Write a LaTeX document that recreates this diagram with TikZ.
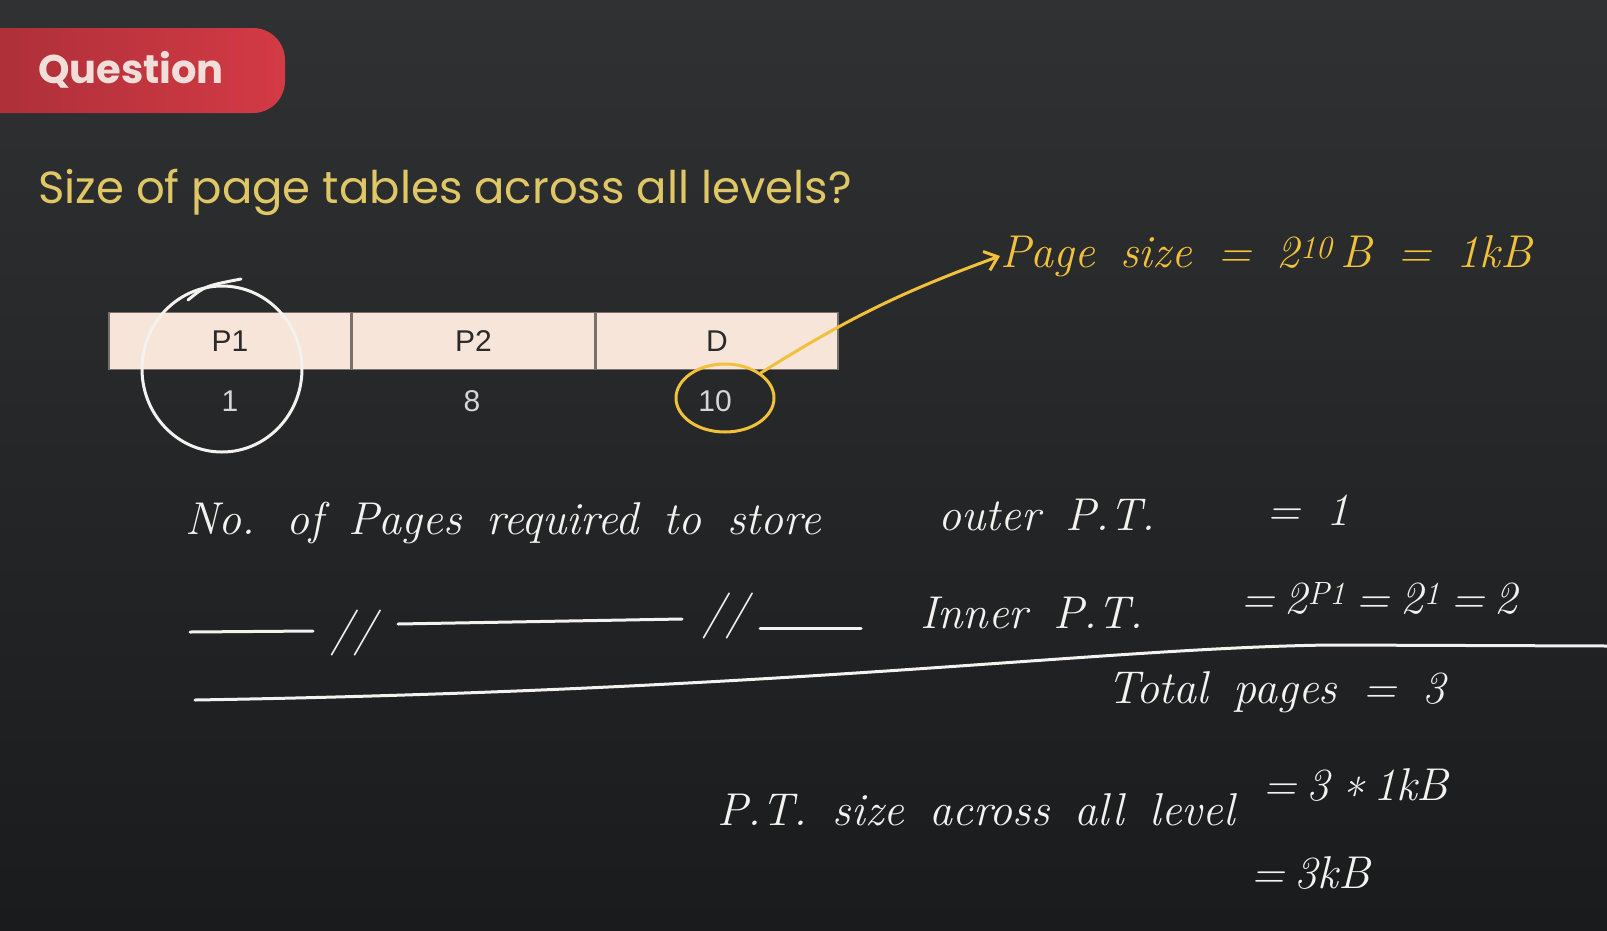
\documentclass[tikz,border=0pt]{standalone}
\usepackage{fontspec}
\usetikzlibrary{arrows.meta,shapes.geometric}
\newfontfamily\popfont{Poppins}
\newfontfamily\arialfont{Liberation Sans}
\newcommand\handfont{\itshape\fontsize{46}{52}\selectfont\spaceskip=0.55em plus 0.1em\relax}
\newcommand\tighthand{\itshape\fontsize{46}{52}\selectfont\spaceskip=0.22em plus 0.05em\relax}

\begin{document}
\begin{tikzpicture}[x=1pt, y=-1pt, line cap=round,
  hand/.style={font=\handfont, anchor=west, inner sep=0pt, text=chalkW},
  tight/.style={font=\tighthand},
  chalk/.style={draw=chalkW, line width=3pt},
  cell/.style={fill=cellC, draw=cellD, line width=1.5pt, minimum width=242pt,
    minimum height=57pt, inner sep=0pt, text=cellT,
    font=\arialfont\fontsize{30}{32}\selectfont},
  num/.style={text=numG, inner sep=0pt, font=\arialfont\fontsize{30}{32}\selectfont}]
\definecolor{bgTop}{HTML}{303133}
\definecolor{bgBot}{HTML}{1A1B1D}
\definecolor{badgeR}{HTML}{D33A45}
\definecolor{badgeT}{HTML}{F1DED8}
\definecolor{titleY}{HTML}{DFC766}
\definecolor{cellC}{HTML}{F6E5D8}
\definecolor{cellD}{HTML}{77706B}
\definecolor{cellT}{HTML}{2A2A2A}
\definecolor{numG}{HTML}{D6D6D6}
\definecolor{chalkW}{HTML}{F3F2EF}
\definecolor{chalkY}{HTML}{F2C13C}
\useasboundingbox (0,0) rectangle (1607,930);
% ---- board ----
\shade[top color=bgTop, bottom color=bgBot] (0,0) rectangle (1607,930);
% ---- question badge ----
\shade[left color=badgeR!80!black, right color=badgeR, rounded corners=32pt]
  (-40,28) rectangle (285,113);
\node[font=\popfont\bfseries\fontsize{40}{44}\selectfont, text=badgeT, inner sep=0pt]
  (qbadge) at (131,70) {Question};
\node[anchor=west, font=\popfont\fontsize{45}{50}\selectfont, text=titleY, inner sep=0pt]
  (title) at (38,192) {Size of page tables across all levels?};
% ---- address split ----
\node[cell] (cP1) at (230,341) {P1};
\node[cell, anchor=west] (cP2) at (cP1.east) {P2};
\node[cell, anchor=west] (cD) at (cP2.east) {D};
\node[num] (bP1) at (230,401) {1};
\node[num] (bP2) at (472,401) {8};
\node[num] (bD) at (715,401) {10};
% ---- rings ----
\node[chalk, ellipse, minimum width=160pt, minimum height=166pt] (ringP) at (222,369) {};
\draw[chalk] (188,300) .. controls (205,286) .. (241,279);
\node[draw=chalkY, line width=3pt, ellipse, minimum width=98pt, minimum height=68pt]
  (ring10) at (725,398) {};
% ---- page size ----
\node[hand, text=chalkY] (pgsize) at (1000,256) {Page size = 2\textsuperscript{10}\,B = 1kB};
\draw[chalkY, line width=3pt, -{Straight Barb[length=12pt,width=20pt]}]
  (ring10.35) to[bend left=6] (pgsize.west);
% ---- outer / inner ----
\node[hand] (noPages) at (185,523) {No. of Pages required to store};
\node[hand] (outerPT) at (938,515) {outer P.T.};
\node[hand] (eqOne) at (1266,510) {= 1};
\draw[chalk] (190,632) -- (313,631);
\node[hand] (dittoA) at (330,633) {//};
\draw[chalk] (398,624) -- (682,619);
\node[hand] (dittoB) at (702,616) {//};
\draw[chalk] (760,628) -- (861,628);
\node[hand] (innerPT) at (920,613) {Inner P.T.};
\node[hand, tight] (eqInner) at (1240,598) {= 2\textsuperscript{P1} = 2\textsuperscript{1} = 2};
\draw[chalk] (195,700) .. controls (800,690) and (1100,648) .. (1330,645) -- (1607,646);
% ---- totals ----
\node[hand] (totPages) at (1107,692) {Total pages = 3};
\node[hand] (ptSize) at (717,810) {P.T. size across all level};
\node[hand, tight] (eqProd) at (1262,790) {= 3 \raisebox{-.25em}{*} 1kB};
\node[hand, tight] (eqRes) at (1250,873) {= 3kB};
\end{tikzpicture}
\end{document}
